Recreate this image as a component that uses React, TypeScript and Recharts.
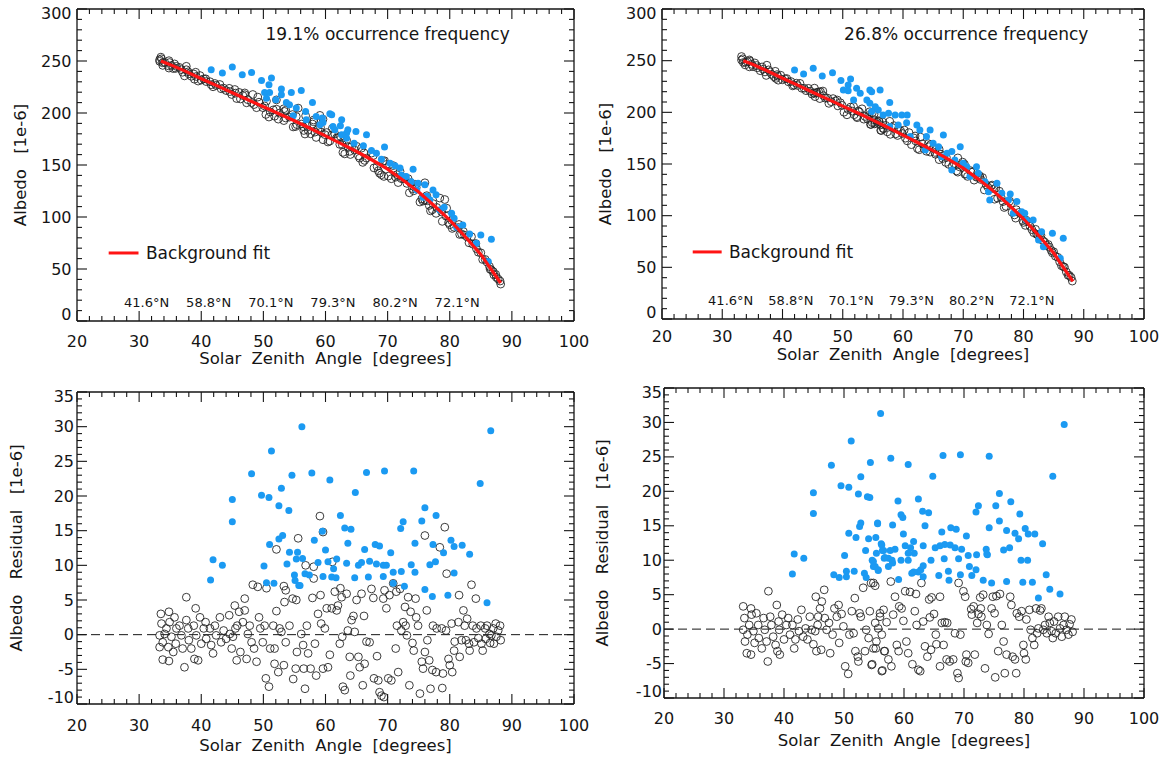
import React from "react";
import {
  ComposedChart,
  Scatter,
  XAxis,
  YAxis,
  ReferenceLine,
  ReferenceDot,
} from "recharts";

const FONT = "'DejaVu Sans', sans-serif";
const INK = "#151515";
const BLUE = "#1b9af2";
const RED = "#ff1414";

// axes
const sza_major = [20, 30, 40, 50, 60, 70, 80, 90, 100];
const albedo_major = [0, 50, 100, 150, 200, 250, 300];
const resid_major = [-10, -5, 0, 5, 10, 15, 20, 25, 30, 35];

const lat_labels = ["41.6°N", "58.8°N", "70.1°N", "79.3°N", "80.2°N", "72.1°N"];
const freq_left = "19.1% occurrence frequency";
const freq_right = "26.8% occurrence frequency";

// background fit
const fit_sza = [33.5, 35, 37.5, 40, 42.5, 45, 47.5, 50, 52.5, 55, 57.5, 60, 62.5, 65, 67.5, 70, 72.5, 75, 77.5, 80, 82.5, 85, 86.5, 88.2];
const fit_albedo = [250, 246.5, 240, 233, 226.3, 219.5, 212.8, 206, 199.3, 192.5, 185.3, 178, 170.6, 163, 154.8, 146, 135.4, 124, 110.8, 97, 81, 64, 51, 36.5];

// top left: albedo, [sza, albedo]
const tl_black = [
  [33.5,253.7],[33.6,252.1],[33.3,251.2],[33.8,248.3],[33.3,249.7],[34.1,248.7],[34.8,250.3],[34.9,248.5],[35.2,245.7],[34.7,245.4],
  [33.8,245.8],[34.8,243.2],[35.7,247.2],[36.0,244.8],[35.9,242.9],[35.5,242.7],[36.5,243.8],[36.8,241.7],[37.0,239.2],[37.3,235.7],
  [37.6,244.9],[37.6,241.6],[37.9,239.6],[38.0,237.6],[38.4,235.3],[38.8,237.5],[39.1,239.2],[39.2,235.1],[38.9,232.5],[39.5,230.7],
  [39.8,236.0],[40.0,231.7],[40.4,232.8],[40.7,232.9],[40.8,230.2],[41.4,230.1],[41.6,227.2],[41.9,225.2],[42.2,228.4],[42.4,226.5],
  [43.0,227.4],[43.2,223.3],[43.6,223.9],[44.0,221.6],[44.5,223.7],[44.6,220.6],[44.9,217.8],[45.4,222.6],[45.5,219.1],[45.7,213.9],
  [46.1,219.8],[46.3,213.5],[46.7,216.7],[47.0,219.3],[47.0,217.6],[47.3,209.8],[47.5,212.8],[48.1,210.0],[48.3,217.8],[48.5,208.1],
  [48.9,205.1],[49.1,215.3],[49.3,210.4],[49.9,205.2],[50.2,206.8],[50.5,211.4],[50.4,198.6],[50.9,196.1],[51.1,201.0],[51.6,203.0],
  [52.1,212.6],[52.1,203.7],[51.8,196.9],[52.4,194.1],[52.6,199.9],[53.3,204.1],[53.6,202.7],[53.4,201.5],[53.6,195.2],[53.3,192.7],
  [54.2,196.0],[54.8,186.6],[54.7,198.5],[55.6,204.7],[55.3,196.6],[55.4,188.8],[55.2,187.0],[56.1,189.4],[56.4,186.9],[56.5,183.2],
  [56.7,179.8],[56.8,197.3],[57.0,188.0],[57.2,183.4],[57.6,180.0],[57.9,189.4],[58.1,193.3],[58.1,191.6],[58.3,181.6],[58.5,176.5],
  [58.8,184.5],[59.1,197.7],[59.2,186.0],[59.3,181.6],[59.6,194.0],[59.6,174.3],[59.9,179.2],[60.2,181.2],[60.4,172.1],[60.7,173.0],
  [61.0,178.8],[61.1,185.2],[61.5,179.7],[61.8,176.1],[62.0,176.2],[62.3,169.8],[62.4,177.5],[62.7,169.6],[62.8,162.1],[63.1,160.7],
  [63.4,173.7],[63.6,167.8],[63.9,163.1],[64.0,160.1],[64.2,167.5],[64.7,164.3],[65.0,168.0],[65.3,158.8],[65.5,156.6],[65.8,166.2],
  [66.0,152.5],[66.2,161.6],[66.3,154.4],[66.6,156.6],[67.4,161.4],[67.7,159.1],[67.8,147.2],[68.3,148.7],[68.5,144.5],[68.7,142.1],
  [69.0,140.6],[69.4,139.0],[69.3,153.6],[69.5,154.1],[69.8,150.5],[70.1,139.3],[70.3,150.4],[70.6,136.8],[70.9,149.4],[71.3,138.3],
  [71.5,140.7],[71.7,133.1],[72.0,143.8],[72.2,136.9],[72.5,136.8],[72.8,137.7],[73.1,132.3],[73.3,136.9],[73.5,123.3],[73.7,133.0],
  [74.0,127.2],[74.2,125.2],[74.5,131.4],[74.6,128.3],[75.2,114.4],[75.5,117.4],[75.7,115.3],[76.0,132.9],[76.0,116.1],[76.3,120.5],
  [76.4,115.6],[76.7,111.1],[76.9,105.9],[77.2,107.0],[77.3,112.9],[77.8,103.5],[77.9,109.2],[78.4,118.2],[78.7,104.9],[78.8,95.8],
  [79.2,116.8],[79.5,108.5],[79.4,100.8],[79.8,94.6],[80.0,92.6],[80.3,96.6],[80.4,89.0],[80.7,90.1],[81.4,89.9],[81.5,92.8],
  [81.6,83.2],[81.9,83.7],[82.2,86.0],[82.4,82.5],[82.8,80.8],[83.1,75.2],[83.5,81.1],[83.7,73.9],[84.2,74.5],[84.3,69.5],
  [84.6,66.1],[85.0,65.6],[85.3,59.1],[85.7,59.2],[86.0,56.6],[86.4,52.4],[86.5,49.8],[86.7,49.1],[87.0,47.5],[87.1,44.4],
  [87.4,44.8],[87.5,42.0],[87.8,40.3],[88.1,38.4],[88.2,35.5],
];
const tl_blue = [
  [41.6,241.6],[43.4,238.4],[45.0,244.2],[46.6,236.8],[48.1,239.0],[49.7,231.3],[51.3,233.6],[50.9,227.1],[50.2,219.7],[51.0,219.7],
  [52.0,212.7],[52.9,223.0],[52.9,217.5],[54.5,219.7],[53.7,210.0],[56.1,221.7],[55.3,204.7],[56.8,201.4],[57.9,210.0],[58.5,196.6],
  [59.5,195.1],[60.7,199.2],[59.6,190.9],[62.4,187.7],[63.4,180.7],[61.0,198.3],[62.6,193.5],[63.6,183.8],[64.9,182.2],[66.6,179.0],
  [64.6,171.0],[66.1,168.4],[67.4,163.9],[68.2,161.4],[69.5,167.2],[69.0,155.6],[70.4,151.8],[72.0,147.0],[72.2,140.5],[74.1,146.0],
  [73.8,134.0],[74.9,132.5],[76.0,130.9],[76.3,120.3],[77.8,121.3],[76.8,116.5],[79.1,109.4],[80.3,103.7],[80.7,98.8],[82.1,92.4],
  [83.2,83.7],[85.0,82.8],[86.7,78.6],[86.2,57.1],[61.2,187.0],[63.4,175.8],[71.2,149.2],[73.0,138.9],[74.7,126.0],[75.7,119.0],
  [77.3,126.0],[78.4,106.8],[81.1,90.2],[84.3,74.8],[54.8,197.3],[56.9,193.5],[59.1,188.6],[61.5,183.8],[62.6,179.0],[50.5,214.3],
  [54.2,207.9],
];

// top right: albedo, [sza, albedo]
const tr_black = [
  [33.2,254.0],[33.4,251.8],[33.2,250.6],[33.5,248.2],[33.9,248.3],[34.2,249.0],[34.5,250.7],[34.6,249.6],[33.8,245.9],[34.5,244.0],
  [34.9,246.4],[35.1,244.2],[35.4,247.8],[35.7,245.3],[35.8,243.1],[36.3,240.3],[36.6,243.9],[36.8,241.7],[37.1,239.1],[37.3,235.7],
  [37.4,245.6],[37.7,241.1],[37.9,239.3],[38.2,236.7],[38.6,234.5],[38.8,239.7],[39.1,236.5],[39.2,235.0],[38.9,232.8],[39.3,231.1],
  [39.7,235.9],[40.0,231.5],[40.4,232.5],[40.7,232.7],[41.0,229.5],[41.4,229.8],[41.7,225.6],[41.9,226.4],[42.3,228.2],[42.5,226.0],
  [42.9,228.0],[43.2,223.3],[43.6,223.3],[43.9,221.0],[44.3,223.2],[44.6,220.5],[44.9,217.6],[45.2,218.7],[45.3,223.4],[45.6,218.5],
  [45.7,219.4],[45.4,215.2],[46.0,219.8],[46.3,220.0],[46.2,213.3],[46.7,220.6],[46.8,216.2],[47.1,213.7],[47.5,213.7],[47.7,208.7],
  [48.1,210.3],[48.4,213.3],[48.8,211.0],[49.1,211.9],[49.2,206.2],[49.6,209.3],[49.9,206.7],[50.2,200.1],[50.7,197.6],[50.9,202.8],
  [51.3,205.1],[51.6,201.1],[51.8,205.6],[51.9,197.7],[52.3,195.8],[52.4,194.8],[52.6,201.3],[52.8,200.2],[53.2,203.4],[53.5,193.4],
  [53.7,196.0],[54.1,193.7],[54.3,197.0],[54.5,200.6],[54.7,188.2],[55.2,198.2],[55.3,188.8],[55.7,190.6],[56.0,191.4],[56.3,182.6],
  [56.6,190.7],[56.7,184.4],[54.9,199.5],[55.2,192.8],[55.4,189.5],[54.9,190.0],[54.6,188.4],[56.0,191.9],[56.3,187.9],[56.4,182.4],
  [56.8,184.1],[57.1,187.4],[57.4,181.1],[57.8,191.3],[57.9,178.7],[58.2,185.3],[58.5,187.1],[58.8,179.2],[59.1,177.6],[59.2,183.6],
  [59.6,182.2],[59.9,179.5],[60.2,182.9],[60.4,175.0],[60.7,172.4],[61.0,180.4],[61.4,168.7],[61.8,175.2],[62.0,177.1],[62.1,172.3],
  [62.4,164.9],[62.7,163.8],[62.9,176.0],[63.2,169.5],[63.5,165.0],[63.9,162.3],[64.2,169.7],[64.3,166.8],[64.5,161.5],[64.6,168.8],
  [65.0,165.2],[65.3,161.2],[65.4,159.4],[66.0,164.3],[66.0,154.2],[66.3,159.5],[66.6,155.3],[66.8,157.9],[67.1,151.5],[67.2,156.4],
  [67.6,149.6],[68.2,147.7],[68.5,150.5],[68.9,143.3],[69.1,142.1],[69.1,155.9],[69.4,147.2],[69.9,151.8],[70.2,149.8],[70.3,140.0],
  [70.7,138.0],[70.4,140.5],[71.2,143.6],[71.3,142.4],[71.6,142.3],[71.8,134.4],[72.2,137.2],[72.4,137.6],[72.7,138.7],[72.8,136.7],
  [72.9,135.0],[73.2,136.9],[73.5,124.9],[73.8,129.9],[74.1,127.5],[74.6,128.8],[74.8,129.6],[75.1,126.0],[75.2,115.9],[75.4,126.6],
  [75.7,117.0],[76.0,123.7],[76.3,117.6],[76.6,113.6],[76.8,107.9],[77.1,109.0],[77.7,114.1],[77.9,111.8],[78.1,103.3],[78.5,100.7],
  [78.7,97.6],[78.8,105.8],[79.2,103.1],[79.6,101.8],[79.9,95.2],[80.0,93.5],[80.3,90.6],[80.4,95.8],[80.9,93.9],[81.1,89.7],
  [81.4,86.5],[81.7,83.5],[82.0,86.8],[82.2,81.9],[82.7,81.9],[82.9,80.9],[82.4,81.2],[83.2,75.9],[83.5,74.5],[83.8,71.3],
  [84.1,72.1],[84.3,69.5],[84.6,66.3],[84.8,64.0],[85.0,65.1],[85.3,60.8],[85.7,59.7],[86.0,55.4],[86.3,51.6],[86.6,50.7],
  [86.8,50.1],[87.1,45.6],[87.4,42.3],[87.6,42.2],[87.9,40.3],[88.1,36.7],
];
const tr_blue = [
  [42.0,241.0],[43.5,237.2],[45.1,242.7],[46.6,235.2],[48.3,238.4],[49.7,230.7],[51.3,232.3],[50.9,226.5],[50.1,221.7],[50.9,221.0],
  [52.3,223.3],[52.9,218.5],[51.8,212.0],[54.0,212.0],[54.5,221.7],[56.2,221.7],[55.4,205.5],[54.8,200.7],[55.9,202.3],[56.7,197.5],
  [54.8,220.0],[54.5,208.8],[57.8,209.4],[57.6,199.1],[58.7,197.5],[59.8,197.5],[60.7,197.5],[59.2,187.8],[60.6,190.0],[62.3,187.8],
  [62.8,183.0],[64.5,183.0],[63.9,176.5],[65.0,170.1],[66.7,178.1],[65.9,166.8],[67.3,160.4],[68.1,162.0],[69.5,166.8],[68.6,153.9],
  [70.0,150.7],[70.6,147.4],[72.2,147.4],[72.5,141.0],[73.6,132.9],[75.6,131.4],[74.2,123.2],[76.4,121.7],[77.8,121.0],[77.5,115.2],
  [78.9,113.6],[79.7,103.9],[80.2,102.3],[81.6,95.8],[83.0,84.5],[84.8,83.0],[86.6,78.1],[86.1,58.8],[83.3,70.0],[82.5,76.5],
  [80.5,95.8],[78.3,102.3],[74.4,115.2],[71.1,137.8],[68.1,144.2],[66.4,157.1],[63.7,163.6],[61.2,176.5],[57.8,186.2],
];

// bottom left: residual, [sza, residual]
const bl_black = [
  [33.5,3.0],[33.6,1.6],[33.3,-0.1],[33.8,-1.1],[33.3,-1.8],[34.1,0.1],[34.4,0.9],[34.8,3.3],[34.9,1.8],[35.2,-0.3],
  [34.7,-1.8],[33.8,-3.6],[34.8,-3.8],[35.7,2.5],[36.0,0.9],[35.9,-1.3],[35.5,-2.5],[36.5,1.3],[36.8,-0.1],[37.0,-2.0],
  [37.3,-4.7],[37.6,5.4],[37.6,2.1],[37.9,0.9],[38.0,-0.8],[38.4,-2.0],[38.8,1.3],[39.1,3.8],[39.2,-0.1],[38.9,-3.5],
  [39.5,-3.7],[39.8,2.5],[40.0,-1.3],[40.4,0.9],[40.7,1.8],[40.8,-0.6],[41.4,0.9],[41.6,-1.5],[41.9,-2.7],[42.2,1.3],
  [42.4,-0.1],[43.0,2.5],[43.2,-1.1],[43.6,0.6],[44.0,-0.6],[44.5,2.8],[44.6,0.1],[44.9,-2.0],[45.1,-0.3],[45.4,4.2],
  [45.5,0.9],[45.8,1.3],[45.7,-3.7],[46.1,3.3],[46.3,-2.5],[46.7,1.8],[47.0,5.2],[47.0,3.5],[47.3,-3.5],[47.5,0.1],
  [47.8,1.3],[48.1,-1.1],[48.3,7.2],[48.5,-2.0],[48.9,-3.9],[49.1,6.9],[49.3,2.5],[49.5,0.9],[49.9,-1.1],[50.2,1.3],
  [50.5,6.7],[50.4,-6.3],[50.9,-7.5],[51.1,-2.0],[51.6,1.3],[51.8,-2.0],[52.1,12.3],[52.1,3.4],[51.8,-4.2],[52.4,-5.4],
  [52.6,0.9],[52.9,0.4],[53.3,7.0],[53.6,6.4],[53.4,4.7],[53.6,-1.1],[53.3,-4.4],[54.2,1.3],[54.8,-6.4],[54.7,5.2],
  [55.6,13.9],[55.3,5.0],[55.4,-2.5],[55.2,-4.9],[56.1,0.1],[56.4,-1.5],[56.5,-4.9],[56.7,-7.8],[56.8,10.0],[57.0,1.3],
  [57.2,-2.7],[57.6,-4.9],[57.9,5.3],[58.1,9.8],[58.1,8.1],[58.3,-1.3],[58.5,-5.9],[58.8,3.0],[59.1,17.1],[59.2,5.7],
  [59.3,1.6],[59.6,14.8],[59.6,-4.9],[59.9,0.9],[60.2,3.8],[60.4,-4.7],[60.7,-2.9],[61.0,3.8],[61.1,10.5],[61.5,6.2],
  [61.8,3.5],[62.0,4.2],[62.3,-1.3],[62.4,6.7],[62.6,5.4],[62.7,-0.3],[62.8,-7.5],[63.1,-8.0],[63.4,5.9],[63.6,0.6],
  [63.9,-3.2],[64.0,-5.9],[64.2,2.1],[64.5,2.7],[64.7,0.4],[65.0,5.0],[65.3,-3.2],[65.5,-4.7],[65.8,5.9],[66.0,-7.3],
  [66.2,2.7],[66.3,-4.2],[66.6,-1.0],[67.1,-1.1],[67.4,6.6],[67.7,5.3],[67.8,-6.3],[68.3,-3.1],[68.5,-6.6],[68.7,-8.3],
  [69.0,-8.8],[69.4,-9.0],[69.3,5.2],[69.5,6.4],[69.8,3.8],[70.1,-6.3],[70.3,5.7],[70.6,-6.6],[70.9,7.4],[71.3,-2.0],
  [71.4,6.2],[71.5,1.3],[71.7,-5.4],[72.0,6.6],[72.2,0.6],[72.5,1.8],[72.8,4.0],[72.9,1.3],[73.1,-0.1],[73.3,5.4],
  [73.5,-7.3],[73.7,3.3],[74.0,-1.2],[74.2,-2.3],[74.5,5.2],[74.6,2.5],[74.9,1.3],[75.2,-8.5],[75.5,-3.9],[75.7,-4.9],
  [76.0,14.3],[76.0,-2.5],[76.3,3.5],[76.4,-0.8],[76.7,-3.7],[76.9,-7.8],[77.2,-5.1],[77.3,1.3],[77.8,-5.4],[77.9,0.9],
  [78.4,12.6],[78.7,0.9],[78.8,-7.7],[78.9,-5.6],[79.2,15.5],[79.5,8.8],[79.4,0.6],[79.8,-3.5],[80.0,-4.4],[80.3,1.6],
  [80.4,-5.4],[80.7,-2.3],[80.8,-1.0],[81.4,1.8],[81.5,5.7],[81.6,-3.2],[81.9,-0.8],[82.2,3.5],[82.4,1.3],[82.6,-0.8],
  [82.8,2.3],[83.1,-1.3],[83.2,-2.3],[83.5,7.2],[83.7,1.3],[83.9,-1.1],[84.2,5.2],[84.3,0.9],[84.6,-0.5],[85.0,1.3],
  [85.1,-1.3],[85.3,-2.3],[85.7,0.9],[85.8,-0.6],[86.0,1.3],[86.4,0.1],[86.5,-1.2],[86.7,-0.1],[87.0,0.9],[87.1,-1.3],
  [87.4,1.6],[87.5,-0.3],[87.8,0.6],[88.1,1.3],[88.2,-0.8],
];
const bl_blue = [
  [41.5,7.9],[41.9,10.8],[43.4,10.0],[45.0,19.5],[45.0,16.3],[48.1,23.2],[49.7,20.1],[50.9,19.8],[50.1,9.9],[50.5,7.5],
  [51.0,13.0],[51.3,26.5],[51.7,7.4],[52.5,18.6],[52.9,21.1],[52.5,13.8],[53.1,14.3],[54.1,17.9],[54.6,23.0],[53.8,10.2],
  [54.2,11.9],[55.0,8.6],[55.1,7.8],[55.5,11.9],[55.7,7.1],[56.2,30.0],[57.8,23.3],[60.7,22.3],[64.8,20.5],[66.6,23.4],
  [69.5,23.6],[74.2,23.6],[84.9,21.8],[86.6,29.4],[62.4,17.2],[58.2,13.6],[59.5,14.9],[63.1,15.4],[64.1,15.2],[63.6,13.2],
  [60.0,12.2],[66.3,12.3],[68.0,13.0],[68.7,12.8],[70.5,11.8],[72.5,16.3],[72.1,15.3],[76.0,18.3],[75.5,16.4],[77.8,17.2],
  [74.4,13.2],[77.3,13.0],[79.0,11.8],[80.2,13.6],[80.7,12.7],[82.0,12.9],[83.2,11.6],[55.3,10.9],[56.3,11.0],[58.8,10.4],
  [60.4,10.5],[61.8,10.9],[61.3,9.5],[59.6,8.4],[61.0,8.3],[63.4,10.3],[65.3,10.0],[65.8,10.4],[67.1,10.6],[68.2,10.2],
  [69.3,10.0],[69.8,10.0],[64.7,8.2],[66.9,8.3],[69.3,8.4],[70.9,9.0],[72.2,9.1],[70.9,7.4],[72.7,7.0],[73.8,10.1],
  [74.4,9.0],[76.8,10.1],[77.7,10.5],[80.7,8.9],[76.0,6.5],[77.2,5.5],[79.7,5.7],[86.0,4.6],[57.4,8.6],[55.9,7.1],
  [56.7,8.8],[61.7,8.2],
];

// bottom right: residual, [sza, residual]
const br_black = [
  [33.2,3.3],[33.4,1.6],[33.2,-0.1],[33.5,-1.8],[33.9,-0.8],[34.2,0.6],[34.5,3.0],[34.6,2.1],[33.8,-3.5],[34.5,-3.7],
  [34.9,-0.3],[35.1,-2.0],[35.4,2.3],[35.7,0.6],[35.8,-1.3],[36.3,-2.8],[36.6,1.6],[36.8,-0.1],[37.1,-1.8],[37.3,-4.7],
  [37.4,5.5],[37.7,1.8],[37.9,0.6],[38.2,-1.1],[38.6,-2.3],[38.8,3.5],[39.1,1.1],[39.2,-0.1],[38.9,-3.2],[39.3,-3.7],
  [39.7,2.1],[40.0,-1.5],[40.4,0.6],[40.7,1.6],[41.0,-0.8],[41.4,0.6],[41.7,-2.8],[41.9,-1.5],[42.3,1.4],[42.5,-0.3],
  [42.9,2.8],[43.2,-1.1],[43.6,0.1],[43.9,-1.5],[44.3,1.8],[44.6,-0.1],[44.9,-2.2],[45.2,-0.3],[45.3,4.7],[45.6,0.6],
  [45.7,1.8],[45.4,-3.2],[46.0,3.0],[46.3,4.0],[46.2,-3.0],[46.7,5.7],[46.8,1.6],[47.1,-0.1],[47.5,0.9],[47.7,-3.5],
  [48.1,-0.8],[48.4,3.0],[48.8,1.8],[49.1,3.5],[49.2,-2.0],[49.6,2.2],[49.9,0.4],[50.2,-5.4],[50.7,-6.5],[50.9,-0.8],
  [51.3,2.6],[51.6,-0.6],[51.8,4.5],[51.9,-3.2],[52.3,-4.0],[52.4,-4.7],[52.6,2.3],[52.8,1.8],[53.2,6.0],[53.5,-3.2],
  [53.7,-0.1],[54.1,-1.3],[54.3,2.6],[54.5,6.7],[54.7,-5.1],[55.2,6.3],[55.3,-2.8],[55.7,0.1],[56.0,1.8],[56.3,-6.1],
  [56.6,2.8],[56.7,-3.2],[54.9,6.7],[55.2,0.9],[55.4,-1.8],[54.9,-2.8],[54.6,-5.2],[56.0,2.3],[56.3,-0.8],[56.4,-6.0],
  [56.8,-3.2],[57.1,1.0],[57.4,-4.4],[57.8,6.9],[57.9,-5.4],[58.2,2.1],[58.5,4.7],[58.8,-2.3],[59.1,-3.2],[59.2,3.3],
  [59.6,3.0],[59.9,1.2],[60.2,5.5],[60.4,-1.8],[60.7,-3.5],[61.0,5.4],[61.4,-5.1],[61.8,2.6],[62.0,5.1],[62.1,0.6],
  [62.4,-5.9],[62.7,-6.1],[62.9,6.7],[63.2,1.1],[63.5,-2.5],[63.9,-4.0],[64.2,4.3],[64.3,1.7],[64.5,-3.0],[64.6,4.6],
  [65.0,2.2],[65.3,-0.8],[65.4,-2.2],[66.0,4.7],[66.0,-5.4],[66.3,0.9],[66.6,-2.3],[66.8,1.0],[67.1,-4.4],[67.2,0.9],
  [67.6,-4.7],[68.2,-4.4],[68.5,-0.6],[68.9,-6.4],[69.1,-7.1],[69.1,6.7],[69.4,-0.8],[69.9,5.5],[70.2,4.7],[70.3,-4.7],
  [70.7,-4.9],[70.4,-3.7],[71.2,2.9],[71.3,2.1],[71.6,3.3],[71.8,-3.7],[72.2,0.9],[72.4,2.2],[72.7,4.6],[72.8,3.0],
  [72.9,1.8],[73.2,5.0],[73.5,-5.7],[73.8,0.6],[74.1,-0.7],[74.6,3.0],[74.8,4.7],[75.1,2.3],[75.2,-7.0],[75.4,4.8],
  [75.7,-3.2],[76.0,5.1],[76.3,0.6],[76.6,-1.8],[76.8,-6.4],[77.1,-3.7],[77.7,4.7],[77.9,3.5],[78.1,-4.0],[78.5,-4.4],
  [78.7,-6.4],[78.8,2.3],[79.2,1.8],[79.6,2.6],[79.9,-2.3],[80.0,-3.5],[80.3,-4.4],[80.4,1.4],[80.9,2.8],[81.1,-0.1],
  [81.4,-1.3],[81.7,-2.3],[82.0,3.0],[82.2,-0.6],[82.7,2.7],[82.9,3.0],[82.4,0.1],[83.2,-0.1],[83.5,0.6],[83.8,-0.6],
  [84.1,1.8],[84.3,0.9],[84.6,-0.3],[84.8,-1.3],[85.0,1.1],[85.3,-0.6],[85.7,1.8],[86.0,0.1],[86.3,-1.1],[86.6,0.6],
  [86.8,1.8],[87.1,-0.1],[87.4,-0.8],[87.6,0.7],[87.9,1.4],[88.1,-0.4],
];
const br_blue = [
  [41.4,8.0],[41.7,10.9],[43.3,10.3],[44.9,19.8],[44.9,16.8],[47.9,23.8],[48.3,7.9],[49.2,7.5],[49.5,20.8],[50.1,10.7],
  [50.4,7.6],[50.4,8.4],[50.8,13.9],[50.8,20.6],[51.2,27.3],[51.7,8.4],[52.0,13.3],[52.4,19.6],[52.6,14.9],[52.8,22.1],
  [52.8,15.4],[53.4,8.1],[53.7,7.5],[53.6,11.4],[53.9,19.2],[54.1,13.1],[54.4,24.2],[54.7,10.0],[54.9,9.1],[55.3,13.3],
  [55.6,15.4],[55.7,8.5],[56.1,31.3],[56.2,12.4],[56.4,11.4],[56.7,10.3],[57.8,24.8],[60.7,23.9],[64.8,22.2],[66.5,25.2],
  [69.4,25.3],[74.2,25.1],[84.8,22.2],[86.7,29.7],[62.4,18.9],[63.1,17.1],[64.1,16.9],[63.5,15.0],[59.0,18.6],[59.5,16.6],
  [59.8,16.2],[54.3,19.1],[55.6,15.3],[58.1,15.1],[59.9,13.8],[61.6,12.7],[60.2,12.1],[61.1,11.8],[61.7,11.0],[63.2,12.1],
  [66.3,14.1],[67.8,14.7],[68.7,14.5],[70.4,13.5],[65.2,11.8],[66.0,12.1],[66.8,12.3],[67.7,12.2],[68.5,11.8],[69.6,11.6],
  [72.0,17.0],[72.4,17.9],[73.7,11.6],[73.9,10.8],[74.2,14.7],[75.3,17.9],[75.9,19.7],[75.9,15.7],[77.8,18.5],[77.1,14.3],
  [78.5,13.9],[79.1,13.1],[79.3,16.7],[80.2,14.6],[80.7,13.8],[81.8,13.8],[83.1,12.4],[76.6,11.5],[77.6,11.8],[79.5,10.0],
  [80.6,10.0],[83.7,7.9],[84.3,5.8],[86.0,5.1],[82.4,4.5],[79.8,6.8],[81.4,6.8],[77.1,6.9],[74.6,6.7],[73.2,7.1],
  [71.3,7.8],[70.9,9.1],[72.0,8.6],[70.7,10.7],[72.1,10.8],[69.1,10.2],[69.4,7.9],[67.4,8.4],[67.5,7.1],[65.8,7.8],
  [64.5,10.0],[63.2,7.6],[62.4,8.3],[61.3,8.1],[59.1,7.2],[59.5,10.0],[60.7,10.0],[60.7,11.0],[58.1,9.6],[57.4,10.3],
  [56.8,10.4],[57.7,11.4],[58.5,11.6],[56.3,12.2],[56.6,11.4],[55.4,11.0],[55.2,9.1],[55.7,8.6],[54.9,9.8],[57.4,9.1],
  [58.0,10.0],[61.6,8.3],[62.8,8.6],[63.2,9.2],[73.8,10.9],[66.7,10.2],
];

const pts = (a: number[][]) => a.map(([x, y]) => ({ x, y }));
const fitPts = fit_sza.map((x, i) => ({ x, y: fit_albedo[i] }));

function allTicks(major: number[], step: number) {
  const out: number[] = [];
  const lo = major[0];
  const hi = major[major.length - 1];
  for (let i = 0; lo + i * step <= hi + 1e-9; i++) out.push(Math.round((lo + i * step) * 100) / 100);
  return out;
}

const Ring = (p: any) => (
  <circle cx={p.cx} cy={p.cy} r={3.9} fill="none" stroke="#262626" strokeWidth={0.9} />
);
const Dot = (p: any) => <circle cx={p.cx} cy={p.cy} r={3.5} fill={BLUE} />;
const NoMark = () => <g />;

type Cfg = {
  left: number;
  top: number;
  width: number;
  height: number;
  yw: number;
  rw: number;
  th: number;
  bh: number;
  yMajor: number[];
  yStep: number;
  yTitle: string;
  yTitleDx: number;
  xLabDy: number;
  xTitleDy: number;
  gap: number;
  black: number[][];
  blue: number[][];
  top_panel: boolean;
  note?: string;
  noteX?: number;
  latX0?: number;
  legendY?: number;
};

function Panel({ c }: { c: Cfg }) {
  const pw = c.width - c.yw - c.rw;
  const ph = c.height - c.th - c.bh;
  const yMin = c.yMajor[0];
  const yMax = c.yMajor[c.yMajor.length - 1];
  const xTicks = allTicks(sza_major, 2);
  const yTicks = allTicks(c.yMajor, c.yStep);
  const txt = { fontFamily: FONT, fill: INK };

  const xTick = (p: any) => {
    const v = p.payload.value;
    const major = sza_major.includes(v);
    const len = major ? 10 : 5;
    return (
      <g>
        <line x1={p.x} x2={p.x} y1={p.y} y2={p.y - len} stroke={INK} strokeWidth={1.1} />
        <line x1={p.x} x2={p.x} y1={p.y - ph} y2={p.y - ph + len} stroke={INK} strokeWidth={1.1} />
        {major && (
          <text x={p.x} y={p.y + c.xLabDy} textAnchor="middle" dominantBaseline="central" fontSize={16} {...txt}>
            {v}
          </text>
        )}
      </g>
    );
  };

  const yTick = (p: any) => {
    const v = p.payload.value;
    const major = c.yMajor.includes(v);
    const len = major ? 10 : 5;
    const dy = v === yMax ? 4 : v === yMin ? -7 : 0;
    return (
      <g>
        <line x1={p.x} x2={p.x + len} y1={p.y} y2={p.y} stroke={INK} strokeWidth={1.1} />
        <line x1={p.x + pw} x2={p.x + pw - len} y1={p.y} y2={p.y} stroke={INK} strokeWidth={1.1} />
        {major && (
          <text x={p.x - c.gap} y={p.y + dy} textAnchor="end" dominantBaseline="central" fontSize={16} {...txt}>
            {v}
          </text>
        )}
      </g>
    );
  };

  return (
    <div style={{ position: "absolute", left: c.left, top: c.top }}>
      <ComposedChart
        width={c.width}
        height={c.height}
        margin={{ top: c.th, right: c.rw, bottom: 0, left: 0 }}
      >
        <XAxis
          type="number"
          dataKey="x"
          domain={[20, 100]}
          ticks={xTicks}
          interval={0}
          allowDataOverflow
          height={c.bh}
          tickLine={false}
          tickSize={0}
          tickMargin={0}
          axisLine={{ stroke: INK, strokeWidth: 1.3 }}
          tick={xTick}
        />
        <YAxis
          type="number"
          dataKey="y"
          domain={[yMin, yMax]}
          ticks={yTicks}
          interval={0}
          allowDataOverflow
          width={c.yw}
          tickLine={false}
          tickSize={0}
          tickMargin={0}
          axisLine={{ stroke: INK, strokeWidth: 1.3 }}
          tick={yTick}
        />
        <ReferenceLine y={yMax} stroke={INK} strokeWidth={1.3} />
        <ReferenceLine x={100} stroke={INK} strokeWidth={1.3} />
        {!c.top_panel && (
          <ReferenceLine y={0} stroke={INK} strokeWidth={1} strokeDasharray="9 5" />
        )}
        <Scatter data={pts(c.black)} shape={Ring} isAnimationActive={false} />
        <Scatter data={pts(c.blue)} shape={Dot} isAnimationActive={false} />
        {c.top_panel && (
          <Scatter
            data={fitPts}
            shape={NoMark}
            line={{ stroke: RED, strokeWidth: 3.2 }}
            lineType="joint"
            isAnimationActive={false}
          />
        )}
        {c.top_panel && (
          <ReferenceLine
            segment={[
              { x: 25.1, y: c.legendY },
              { x: 29.9, y: c.legendY },
            ]}
            stroke={RED}
            strokeWidth={3}
          />
        )}
        {c.top_panel && (
          <ReferenceDot
            x={31.1}
            y={c.legendY}
            r={0}
            ifOverflow="visible"
            shape={(p: any) => (
              <text x={p.cx} y={p.cy} dominantBaseline="central" fontSize={17} {...txt}>
                Background fit
              </text>
            )}
          />
        )}
        {c.top_panel && (
          <ReferenceDot
            x={c.noteX}
            y={276}
            r={0}
            ifOverflow="visible"
            shape={(p: any) => (
              <text x={p.cx} y={p.cy} textAnchor="middle" dominantBaseline="central" fontSize={17} {...txt}>
                {c.note}
              </text>
            )}
          />
        )}
        {c.top_panel &&
          lat_labels.map((s, i) => (
            <ReferenceDot
              key={s}
              x={(c.latX0 as number) + i * 10}
              y={18}
              r={0}
              ifOverflow="visible"
              shape={(p: any) => (
                <text x={p.cx} y={p.cy} textAnchor="middle" dominantBaseline="central" fontSize={13} {...txt}>
                  {s}
                </text>
              )}
            />
          ))}
        <ReferenceDot
          x={60}
          y={yMin}
          r={0}
          ifOverflow="visible"
          shape={(p: any) => (
            <text
              x={p.cx}
              y={p.cy + c.xTitleDy}
              textAnchor="middle"
              dominantBaseline="central"
              fontSize={16.5}
              wordSpacing={5}
              {...txt}
            >
              Solar Zenith Angle [degrees]
            </text>
          )}
        />
        <ReferenceDot
          x={20}
          y={(yMin + yMax) / 2}
          r={0}
          ifOverflow="visible"
          shape={(p: any) => (
            <text
              x={p.cx + c.yTitleDx}
              y={p.cy}
              textAnchor="middle"
              dominantBaseline="central"
              fontSize={16.5}
              wordSpacing={10}
              transform={`rotate(-90 ${p.cx + c.yTitleDx} ${p.cy})`}
              {...txt}
            >
              {c.yTitle}
            </text>
          )}
        />
      </ComposedChart>
    </div>
  );
}

export default function App() {
  const panels: Cfg[] = [
    {
      left: 0, top: 0, width: 600, height: 380, yw: 77, rw: 26, th: 9, bh: 59,
      yMajor: albedo_major, yStep: 10, yTitle: "Albedo [1e-6]", yTitleDx: -57, xLabDy: 20, xTitleDy: 37, gap: 5.5,
      black: tl_black, blue: tl_blue, top_panel: true, note: freq_left, noteX: 70.0, latX0: 31.2, legendY: 65.4,
    },
    {
      left: 585, top: 0, width: 582, height: 380, yw: 77, rw: 23, th: 9, bh: 61,
      yMajor: albedo_major, yStep: 10, yTitle: "Albedo [1e-6]", yTitleDx: -57, xLabDy: 17, xTitleDy: 35, gap: 5.5,
      black: tr_black, blue: tr_blue, top_panel: true, note: freq_right, noteX: 70.5, latX0: 31.4, legendY: 64.9,
    },
    {
      left: 0, top: 380, width: 600, height: 379, yw: 77, rw: 26, th: 12, bh: 55,
      yMajor: resid_major, yStep: 1, yTitle: "Albedo Residual [1e-6]", yTitleDx: -61, xLabDy: 21, xTitleDy: 41, gap: 3,
      black: bl_black, blue: bl_blue, top_panel: false,
    },
    {
      left: 585, top: 380, width: 582, height: 379, yw: 79, rw: 23, th: 8, bh: 61,
      yMajor: resid_major, yStep: 1, yTitle: "Albedo Residual [1e-6]", yTitleDx: -62, xLabDy: 20, xTitleDy: 42, gap: 2,
      black: br_black, blue: br_blue, top_panel: false,
    },
  ];
  return (
    <div style={{ position: "absolute", left: 0, top: 0, width: 1167, height: 759, background: "#fff" }}>
      {panels.map((c, i) => (
        <Panel key={i} c={c} />
      ))}
    </div>
  );
}
